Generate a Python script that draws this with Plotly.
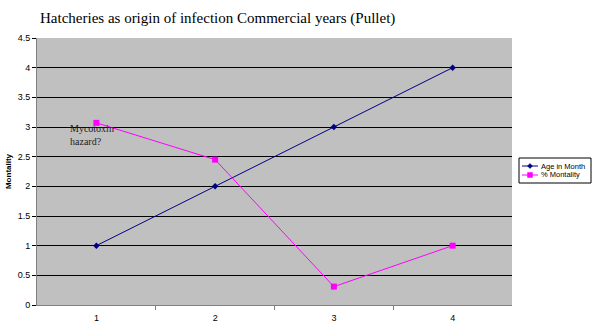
import plotly.graph_objects as go

months = [1, 2, 3, 4]
age_in_month = [1, 2, 3, 4]
pct_mortality = [3.07, 2.45, 0.31, 1.0]
y_ticks = [0, 0.5, 1, 1.5, 2, 2.5, 3, 3.5, 4, 4.5]
y_labels = ["0", "0.5", "1", "1.5", "2", "2.5", "3", "3.5", "4", "4.5"]
series_names = ["Age in Month", "% Montality"]
series_colors = ["#000080", "#FF00FF"]

W, H = 600, 324
L, R, T, B = 37, 88, 38, 19
PW, PH = W - L - R, H - T - B


def px(x):
    return (x - L) / PW


def py(y):
    return (H - B - y) / PH


fig = go.Figure()
fig.add_trace(go.Scatter(x=months, y=age_in_month, mode="lines+markers", name=series_names[0],
                         line=dict(color=series_colors[0], width=1),
                         marker=dict(symbol="diamond", size=5, color=series_colors[0])))
fig.add_trace(go.Scatter(x=months, y=pct_mortality, mode="lines+markers", name=series_names[1],
                         line=dict(color=series_colors[1], width=1),
                         marker=dict(symbol="square", size=6, color=series_colors[1])))

fig.add_annotation(x=0.76, y=2.87, xref="x", yref="y", xanchor="left", yanchor="middle",
                   text="Mycotoxin<br>hazard?", showarrow=False, align="left",
                   font=dict(family="Liberation Serif", size=10, color="#222222"))

# custom compact legend
fig.add_shape(type="rect", xref="paper", yref="paper", x0=px(519), x1=px(591), y0=py(183), y1=py(158),
              line=dict(color="black", width=1), fillcolor="white", layer="above")
for i, (nm, col) in enumerate(zip(series_names, series_colors)):
    yy = 166 + i * 9
    fig.add_shape(type="line", xref="paper", yref="paper", x0=px(522), x1=px(538), y0=py(yy), y1=py(yy),
                  line=dict(color=col, width=1), layer="above")
    if i == 0:
        path = (f"M {px(530)} {py(yy-2.5)} L {px(532.5)} {py(yy)} L {px(530)} {py(yy+2.5)} "
                f"L {px(527.5)} {py(yy)} Z")
        fig.add_shape(type="path", xref="paper", yref="paper", path=path,
                      fillcolor=col, line=dict(color=col, width=0.5), layer="above")
    else:
        fig.add_shape(type="rect", xref="paper", yref="paper", x0=px(527.5), x1=px(532.5),
                      y0=py(yy + 2.5), y1=py(yy - 2.5), fillcolor=col,
                      line=dict(color=col, width=0.5), layer="above")
    fig.add_annotation(x=px(539), y=py(yy), xref="paper", yref="paper", xanchor="left",
                       yanchor="middle", text=nm, showarrow=False,
                       font=dict(family="Liberation Sans", size=7.5, color="black"))

fig.update_layout(
    width=W, height=H,
    margin=dict(l=L, r=R, t=T, b=B, autoexpand=False),
    paper_bgcolor="white", plot_bgcolor="#C0C0C0",
    title=dict(text="Hatcheries as origin of infection Commercial years (Pullet)",
               x=40/W, xanchor="left", y=1-18/H, yanchor="middle",
               font=dict(family="Liberation Serif", size=15, color="black")),
    font=dict(family="Liberation Sans", size=9, color="black"),
    showlegend=False,
)
fig.update_xaxes(range=[0.5, 4.5], tickvals=months, ticktext=[str(m) for m in months],
                 showgrid=False, zeroline=False, showline=True, linecolor="#808080", linewidth=1,
                 ticks="", ticklabelstandoff=4, automargin=False,
                 minor=dict(tickvals=[1.5, 2.5, 3.5], ticks="outside", ticklen=4, tickcolor="#808080"))
fig.update_yaxes(range=[0, 4.5], tickvals=y_ticks, ticktext=y_labels,
                 showgrid=True, gridcolor="black", gridwidth=1, zeroline=False,
                 showline=True, linecolor="#808080", linewidth=1, automargin=False,
                 ticks="outside", ticklen=4, tickcolor="black",
                 title=dict(text="<b>Montality</b>", standoff=4,
                            font=dict(family="Liberation Sans", size=8)))

fig.write_html("out.html")
